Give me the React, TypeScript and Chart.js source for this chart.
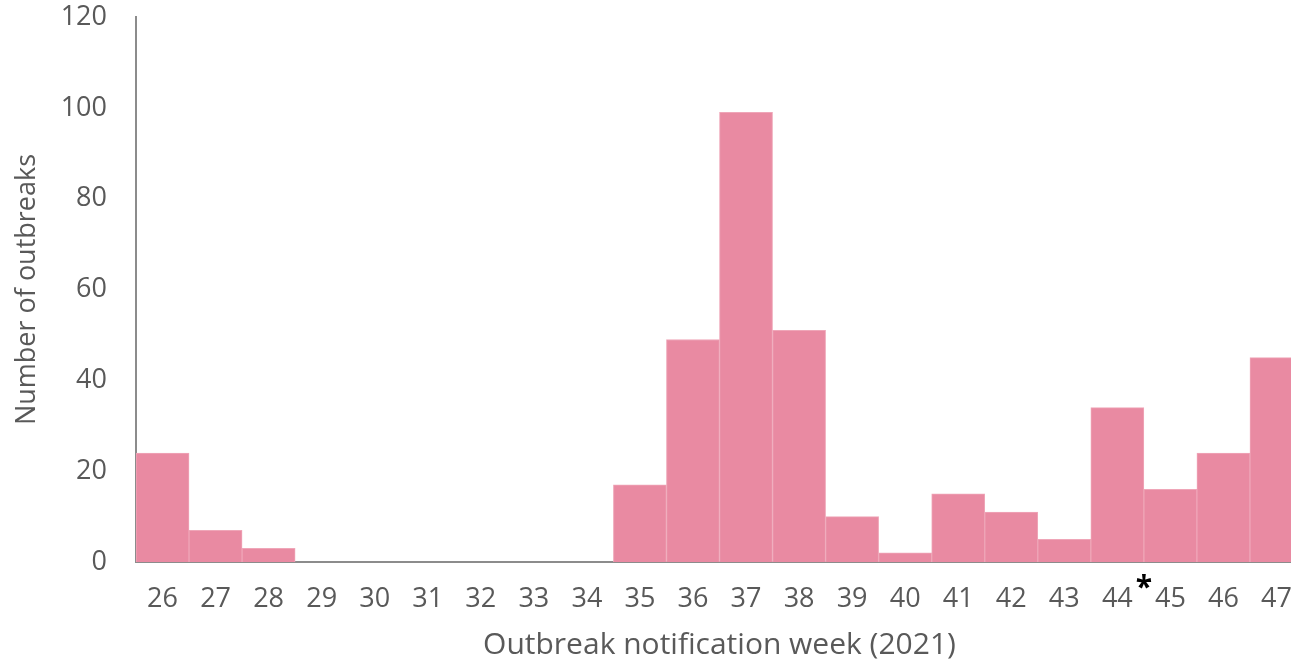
import React, { useEffect, useRef } from "react";
import { Chart, registerables } from "chart.js";

Chart.register(...registerables);

const weeks = ["26","27","28","29","30","31","32","33","34","35","36","37","38","39","40","41","42","43","44","45","46","47"];
const outbreaks = [24, 7, 3, 0, 0, 0, 0, 0, 0, 17, 49, 99, 51, 10, 2, 15, 11, 5, 34, 16, 24, 45];
const yTicks = [0, 20, 40, 60, 80, 100, 120];
const markerBetween = ["44", "45"];
const markerText = "*";

const FONT = "'Open Sans', 'Noto Sans', sans-serif";
const CANVAS_W = 1303;

const asteriskPlugin = {
  id: "asterisk",
  afterDraw(chart: any) {
    const x = chart.scales.x;
    const i0 = weeks.indexOf(markerBetween[0]);
    const i1 = weeks.indexOf(markerBetween[1]);
    const px = (x.getPixelForValue(i0) + x.getPixelForValue(i1)) / 2;
    const ctx = chart.ctx;
    ctx.save();
    ctx.fillStyle = "#000";
    ctx.font = `bold 30px ${FONT}`;
    ctx.textAlign = "center";
    ctx.textBaseline = "middle";
    ctx.fillText(markerText, px, x.top + 26);
    ctx.restore();
  },
};

export default function App() {
  const ref = useRef<HTMLCanvasElement>(null);
  useEffect(() => {
    document.body.style.margin = "0";
    const chart = new Chart(ref.current!, {
      type: "bar",
      data: {
        labels: weeks,
        datasets: [
          {
            data: outbreaks,
            backgroundColor: "#e98aa2",
            borderColor: "#efa6b8",
            borderWidth: 1,
            barPercentage: 1,
            categoryPercentage: 1,
          },
        ],
      },
      options: {
        animation: false,
        responsive: false,
        maintainAspectRatio: false,
        layout: { padding: { top: 17, right: 0, left: 0, bottom: 0 } },
        plugins: { legend: { display: false }, tooltip: { enabled: false } },
        scales: {
          x: {
            grid: { display: false, drawTicks: false },
            border: { display: true, color: "#8c8c8c", width: 2 },
            ticks: { color: "#595959", font: { family: FONT, size: 27 }, padding: 21, maxRotation: 0, autoSkip: false },
            title: {
              display: true,
              text: "Outbreak notification week (2021)",
              color: "#595959",
              font: { family: FONT, size: 30 },
              padding: { top: 0, bottom: -3 },
            },
            afterFit(scale: any) {
              scale.height = 98;
              scale.paddingLeft = 0;
              scale.paddingRight = 0;
            },
          },
          y: {
            min: 0,
            max: 120,
            afterBuildTicks(scale: any) {
              scale.ticks = yTicks.map((v) => ({ value: v }));
            },
            grid: { display: false, drawTicks: false },
            border: { display: true, color: "#8c8c8c", width: 2 },
            ticks: { color: "#595959", font: { family: FONT, size: 27 }, padding: 29 },
            title: {
              display: true,
              text: "Number of outbreaks",
              color: "#595959",
              font: { family: FONT, size: 27 },
              padding: { top: 11, bottom: 0 },
            },
            afterFit(scale: any) {
              scale.width = 136;
              scale.paddingTop = 0;
              scale.paddingBottom = 0;
            },
          },
        },
      },
      plugins: [asteriskPlugin],
    });
    return () => chart.destroy();
  }, []);
  return (
    <div style={{ position: "absolute", left: 0, top: 0, width: 1291, height: 660, overflow: "hidden" }}>
      <canvas ref={ref} width={CANVAS_W} height={660} style={{ width: CANVAS_W, height: 660, display: "block" }} />
    </div>
  );
}
